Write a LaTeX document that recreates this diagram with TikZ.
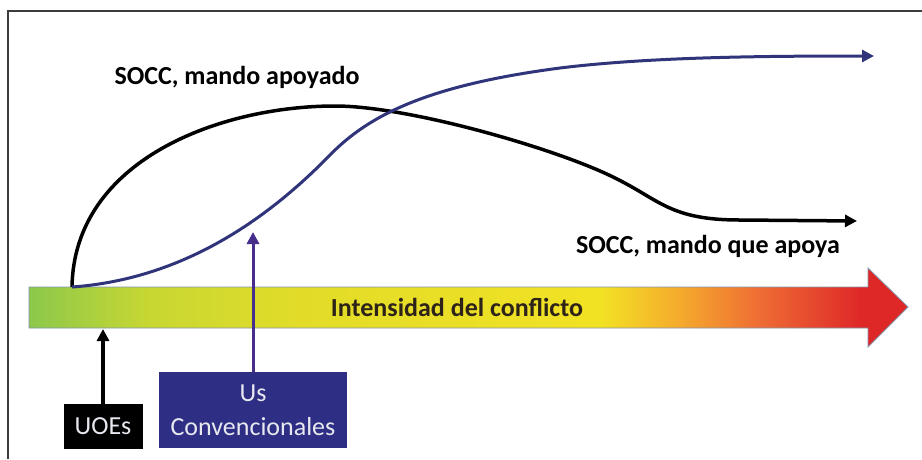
\documentclass[tikz,border=0pt]{standalone}
\usepackage{fontspec}
\setmainfont{Carlito}
\usetikzlibrary{arrows.meta}

\definecolor{marco}{RGB}{60,60,60}
\definecolor{azulCurva}{RGB}{48,52,122}
\definecolor{azulLinea}{RGB}{72,46,140}
\definecolor{azulCaja}{RGB}{46,46,132}
\definecolor{textoCaja}{RGB}{232,232,240}
\definecolor{textoBarra}{RGB}{45,35,25}
\definecolor{bordeBarra}{RGB}{130,150,175}
\definecolor{verde}{RGB}{140,200,75}
\definecolor{verdeAm}{RGB}{200,215,50}
\definecolor{amarillo}{RGB}{226,220,40}
\definecolor{amarilloB}{RGB}{242,226,36}
\definecolor{naranja}{RGB}{245,170,45}
\definecolor{naranjaR}{RGB}{238,108,52}
\definecolor{rojo}{RGB}{222,40,40}

\pgfdeclarehorizontalshading{conflicto}{100bp}{color(0bp)=(verde); color(25bp)=(verde);
  color(31.9bp)=(verdeAm); color(40.4bp)=(amarillo); color(57.5bp)=(amarilloB);
  color(62bp)=(naranja); color(66.6bp)=(naranjaR); color(72.3bp)=(rojo); color(100bp)=(rojo)}

\begin{document}
\begin{tikzpicture}[x=1pt, y=-1pt]
  \useasboundingbox (0,0) rectangle (922,459);
  \fill [white] (0,0) rectangle (922,459);
  \tikzstyle{etiqueta}=[font=\fontsize{26}{30}\selectfont\bfseries, inner sep=0pt]
  \tikzstyle{caja}=[font=\fontsize{26}{34}\selectfont, text=textoCaja, inner sep=0pt, align=center]
  \tikzstyle{curvaN}=[line width=3.5pt, -{Triangle[length=12pt, width=12pt]}]
  \tikzstyle{curvaA}=[line width=3pt, azulCurva, -{Triangle[length=12pt, width=12pt]}]
  \tikzstyle{flechaN}=[line width=3.5pt, -{Triangle[length=12pt, width=12pt]}]
  \tikzstyle{flechaA}=[line width=3pt, azulLinea, -{Triangle[length=12pt, width=12pt]}]

  \draw [marco, line width=1.5pt] (8,459) |- (922,11);  % marco

  % barra de intensidad
  \shade [shading=conflicto, draw=bordeBarra, line width=0.8pt]
    (29,287) -- (868,287) -- (868,268) -- (908,307) -- (868,347) -- (868,328) -- (29,328) -- cycle;
  \node[etiqueta, text=textoBarra] (intensidad) at (457,307) {Intensidad del conflicto};

  \node[etiqueta] (apoyado) at (237,77)  {SOCC, mando apoyado};
  \node[etiqueta] (apoya)   at (708,246) {SOCC, mando que apoya};

  \node[caja, fill=black, minimum width=79, minimum height=45] (uoes) at (103,426.5) {UOEs};
  \node[caja, fill=azulCaja, minimum width=188, minimum height=76] (us) at (253,410) {Us\\Convencionales};

  \coordinate (origen) at (72,287);
  \coordinate (finN)   at (857,221);
  \coordinate (finA)   at (874,56);
  \coordinate (barS)   at (103,329);
  \coordinate (curvaP) at (253,232);

  \draw[curvaN] (origen) .. controls (74,160) and (220,106) .. (335,106)
    .. controls (410,106) and (560,150) .. (615,178)
    .. controls (660,200) and (670,220) .. (740,220) -- (finN);
  \draw[curvaA] (origen) .. controls (170,280) and (255,232) .. (330,155)
    .. controls (370,114) and (430,85) .. (560,68)
    .. controls (650,57) and (760,56) .. (finA);

  \path (uoes) edge[flechaN] (barS);
  \path (us) edge[flechaA] (curvaP);
\end{tikzpicture}
\end{document}
